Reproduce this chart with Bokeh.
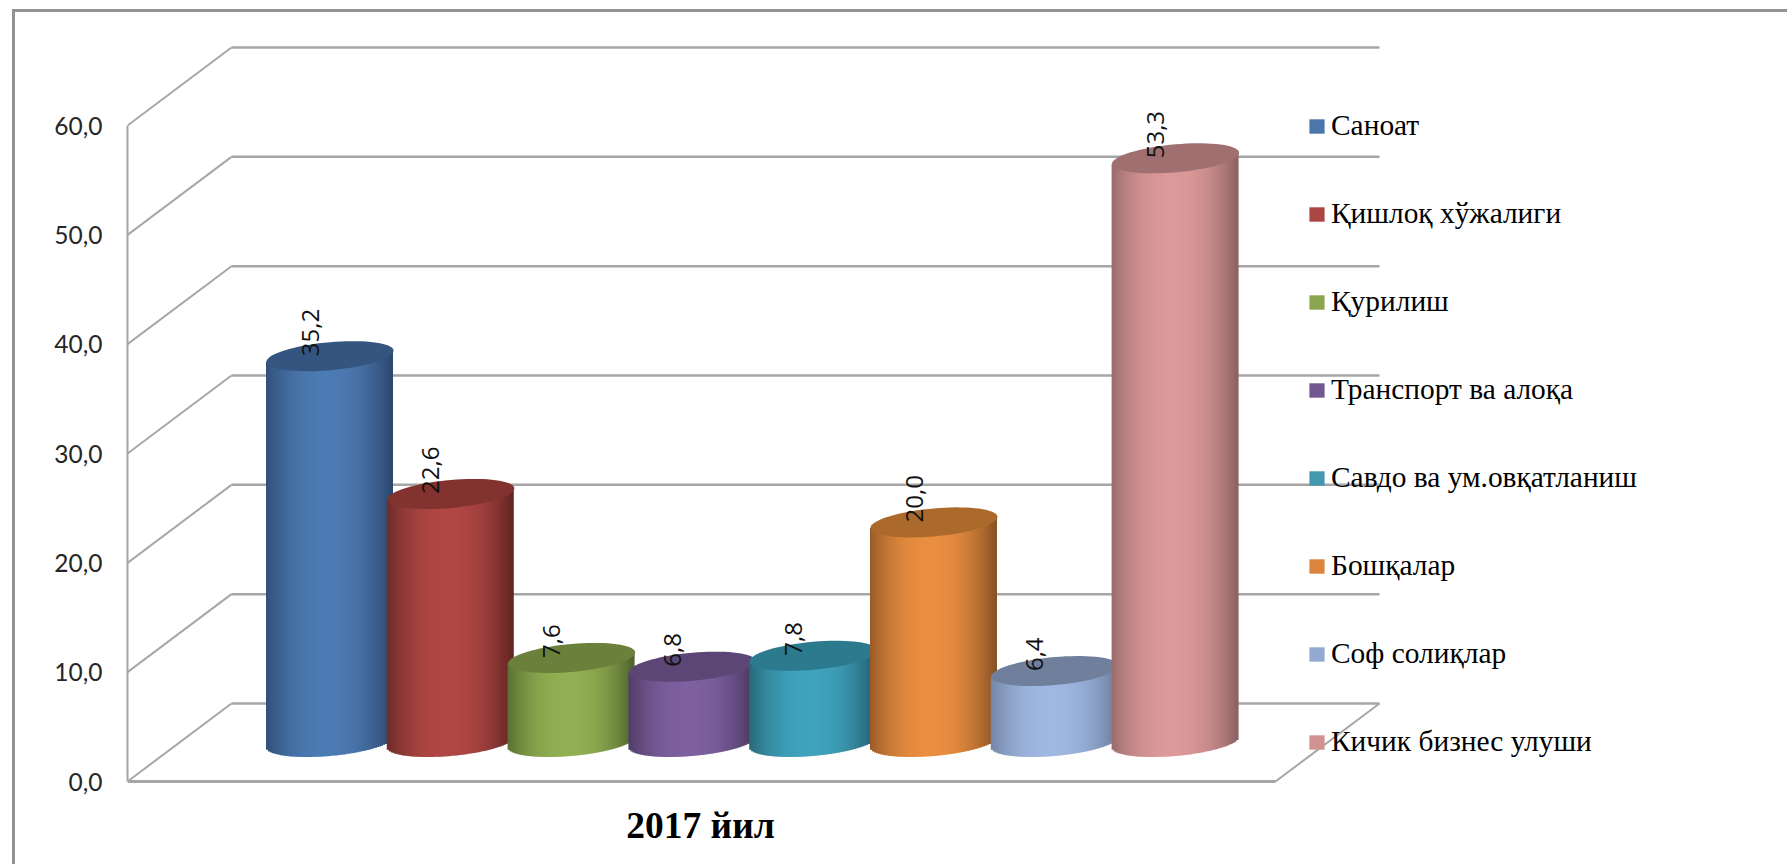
import math
from bokeh.plotting import figure
from bokeh.models import LinearAxis, FixedTicker, Legend, LegendItem, ColumnDataSource, InlineStyleSheet
from bokeh.core.properties import value
from bokeh.embed import file_html
from bokeh.resources import INLINE

categories = ["Саноат", "Қишлоқ хўжалиги", "Қурилиш", "Транспорт ва алоқа",
              "Савдо ва ум.овқатланиш", "Бошқалар", "Соф солиқлар", "Кичик бизнес улуши"]
values = [35.2, 22.6, 7.6, 6.8, 7.8, 20.0, 6.4, 53.3]
value_labels = ["35,2", "22,6", "7,6", "6,8", "7,8", "20,0", "6,4", "53,3"]
tick_values = [0, 10, 20, 30, 40, 50, 60]
tick_labels = ["0,0", "10,0", "20,0", "30,0", "40,0", "50,0", "60,0"]
axis_title = "2017 йил"

body_colors = ["#4c7ab3", "#b04744", "#92b053", "#7e60a0", "#3fa3bd", "#ea8e40", "#9fb8e2", "#dc9999"]
edge_colors = ["#2a4569", "#5c2422", "#4c5f2a", "#443459", "#225a69", "#834f22", "#6a7a99", "#8a6060"]
cap_colors = ["#34557f", "#82332f", "#6b803a", "#5b4676", "#2c7a8e", "#ab692b", "#707f9c", "#a07070"]
legend_colors = ["#4a76aa", "#ab4643", "#8aa64e", "#71588f", "#4198af", "#db843d", "#93a9cf", "#d19392"]

GRID = "#a6a6a6"
W, H = 1779, 856
AX_X = 127
FLOOR_PY = 781.0
PX_PER_UNIT = 10.933
BOTTOM_PY = 784.0
BACK_DX = 104
BACK_DY = 78 / PX_PER_UNIT
FRONT_RIGHT = 1275
BAR0 = 329.5
BAR_STEP = 120.8
BAR_HALF = 63.5
BASE = 3.7
BASE_BOTTOM = 3.62
TILT = 0.0866
CAP_B = 14.0 / PX_PER_UNIT

y_low = (FLOOR_PY - BOTTOM_PY) / PX_PER_UNIT
y_high = FLOOR_PY / PX_PER_UNIT

p = figure(width=W, height=H, output_backend="svg", toolbar_location=None,
           x_range=(AX_X, W), y_range=(y_low, y_high),
           min_border_left=AX_X, min_border_right=0, min_border_top=0,
           min_border_bottom=int(H - BOTTOM_PY), y_axis_location=None, x_axis_location=None)
p.grid.visible = False
p.outline_line_color = None
p.stylesheets = [InlineStyleSheet(css=":host::before{content:'';position:absolute;left:12px;top:9px;"
                                      "right:-8px;bottom:-8px;border-left:3px solid #929292;"
                                      "border-top:3px solid #929292;pointer-events:none;z-index:5;}")]

yaxis = LinearAxis(ticker=FixedTicker(ticks=tick_values), bounds=(0, 60),
                   major_label_overrides=dict(zip(tick_values, tick_labels)),
                   major_label_text_font="Lato", major_label_text_font_size="24.5px",
                   major_label_text_color="#262626", major_label_standoff=19,
                   major_tick_line_color=None, minor_tick_line_color=None,
                   axis_line_color=GRID, axis_line_width=2)
p.add_layout(yaxis, "left")

title_x = 700
xaxis = LinearAxis(ticker=FixedTicker(ticks=[title_x]),
                   major_label_overrides={title_x: axis_title},
                   major_label_text_font="Liberation Serif", major_label_text_font_style="bold",
                   major_label_text_font_size="37.5px", major_label_text_color="#000000",
                   major_label_standoff=14, major_tick_line_color=None, minor_tick_line_color=None,
                   axis_line_color=None)
p.add_layout(xaxis, "below")

# walls
p.segment(x0=[AX_X + BACK_DX] * 7, y0=[t + BACK_DY for t in tick_values],
          x1=[FRONT_RIGHT + BACK_DX] * 7, y1=[t + BACK_DY for t in tick_values],
          line_color=GRID, line_width=2.5)
p.segment(x0=[AX_X] * 7, y0=tick_values, x1=[AX_X + BACK_DX] * 7,
          y1=[t + BACK_DY for t in tick_values], line_color=GRID, line_width=2)
p.segment(x0=[AX_X, FRONT_RIGHT], y0=[0, 0], x1=[FRONT_RIGHT, FRONT_RIGHT + BACK_DX], y1=[0, BACK_DY],
          line_color=GRID, line_width=[3, 2])


def hex2rgb(h):
    return tuple(int(h[i:i + 2], 16) for i in (1, 3, 5))


def mix(a, b, t):
    ra, rb = hex2rgb(a), hex2rgb(b)
    return "#%02x%02x%02x" % tuple(round(x + (y - x) * t) for x, y in zip(ra, rb))


items = []
for i, (cat, v) in enumerate(zip(categories, values)):
    cx = BAR0 + i * BAR_STEP
    strip = 2.0
    n = int(2 * BAR_HALF / strip)
    xs, tops, bots, cols = [], [], [], []
    for k in range(n):
        x = -BAR_HALF + (k + 0.5) * strip
        u = x / BAR_HALF
        shade = min(1.0, abs(u + 0.05) / 1.05)
        lower = CAP_B * math.sqrt(max(0, 1 - u * u))
        slope_y = TILT * x / PX_PER_UNIT
        xs.append(cx + x)
        bots.append(BASE_BOTTOM + slope_y - lower)
        tops.append(BASE + v + slope_y)
        cols.append(mix(body_colors[i], edge_colors[i], shade ** 2.2))
    src = ColumnDataSource(dict(x=xs, top=tops, bottom=bots, color=cols))
    # One flat-coloured glyph per category, which the legend shows as its key
    key = p.vbar(x=[cx], width=[2], top=[BASE + v], bottom=[BASE], fill_color=legend_colors[i],
                 line_color=None)
    p.vbar(x="x", width=strip + 1.0, top="top", bottom="bottom", fill_color="color", line_color=None,
           source=src)
    steps = [j * 2 * math.pi / 72 for j in range(72)]
    cap_x = [cx + BAR_HALF * math.cos(t) for t in steps]
    cap_y = [BASE + v + TILT * BAR_HALF * math.cos(t) / PX_PER_UNIT + CAP_B * math.sin(t) for t in steps]
    p.patch(cap_x, cap_y, fill_color=cap_colors[i], line_color=None)
    items.append(LegendItem(label=cat, renderers=[key]))

label_x = [BAR0 + i * BAR_STEP - 20 for i in range(len(values))]
label_y = [BASE + v for v in values]
p.text(x=label_x, y=label_y, text=value_labels, angle=math.pi / 2, text_align="left",
       text_baseline="middle", text_font=value("Open Sans"), text_font_size="24px", text_color="#111111")

legend = Legend(items=items, location=(1307 - AX_X, 26), orientation="vertical",
                background_fill_alpha=0, border_line_color=None,
                label_text_font="Liberation Serif", label_text_font_size="29.4px", label_text_color="#000000",
                glyph_width=19, glyph_height=18, label_standoff=5, spacing=55, padding=0, margin=0)
p.add_layout(legend, "center")

open("out.html", "w").write(file_html(p, INLINE))
